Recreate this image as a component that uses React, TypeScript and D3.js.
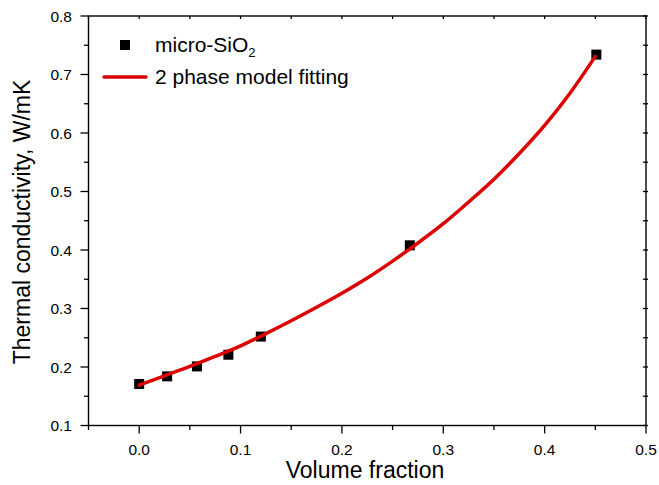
import React from "react";
import * as d3 from "d3";

const volumeFraction = [0, 0.0276, 0.057, 0.088, 0.12, 0.267, 0.451];
const conductivity = [0.171, 0.184, 0.201, 0.221, 0.252, 0.408, 0.734];

const fitX = [0, 0.025, 0.05, 0.075, 0.1, 0.125, 0.15, 0.175, 0.2, 0.225, 0.25, 0.275, 0.3, 0.325, 0.35, 0.375, 0.4, 0.425, 0.45];
const fitY = [0.169, 0.185, 0.201, 0.218, 0.236, 0.257, 0.279, 0.302, 0.326, 0.352, 0.381, 0.412, 0.445, 0.482, 0.521, 0.565, 0.613, 0.668, 0.731];

const xMajor = [0, 0.1, 0.2, 0.3, 0.4, 0.5];
const xMinor = [-0.05, 0.05, 0.15, 0.25, 0.35, 0.45];
const yMajor = [0.1, 0.2, 0.3, 0.4, 0.5, 0.6, 0.7, 0.8];
const yMinor = [0.15, 0.25, 0.35, 0.45, 0.55, 0.65, 0.75];

const W = 659, H = 485;
const L = 88.5, R = 646, T = 16, B = 425.5;
const RED = "#dd0000";
const FONT = "'Liberation Sans', Arial, Helvetica, sans-serif";

export default function App() {
  const x = d3.scaleLinear().domain([-0.05, 0.5]).range([L, R]);
  const y = d3.scaleLinear().domain([0.1, 0.8]).range([B, T]);
  const line = d3
    .line<number>()
    .x((d) => x(d))
    .y((_, i) => y(fitY[i]))
    .curve(d3.curveCatmullRom.alpha(0.5));
  const sq = 10;
  return (
    <svg
      width={W}
      height={H}
      style={{ position: "absolute", left: 0, top: 0, background: "#fff" }}
      fontFamily={FONT}
    >
      <rect x={0} y={0} width={W} height={H} fill="#fff" />
      {xMajor.map((v) => (
        <line key={"bx" + v} x1={x(v)} x2={x(v)} y1={B} y2={B + 8} stroke="#000" strokeWidth={1.3} />
      ))}
      {xMinor.map((v) => (
        <line key={"bxm" + v} x1={x(v)} x2={x(v)} y1={B} y2={B + 4.5} stroke="#000" strokeWidth={1.3} />
      ))}
      {[...xMajor, ...xMinor].map((v) => (
        <line key={"tx" + v} x1={x(v)} x2={x(v)} y1={T} y2={T + 3} stroke="#000" strokeWidth={1.3} />
      ))}
      {yMajor.map((v) => (
        <line key={"ly" + v} x1={L - 8} x2={L} y1={y(v)} y2={y(v)} stroke="#000" strokeWidth={1.3} />
      ))}
      {yMinor.map((v) => (
        <line key={"lym" + v} x1={L - 4.5} x2={L} y1={y(v)} y2={y(v)} stroke="#000" strokeWidth={1.3} />
      ))}
      {[...yMajor, ...yMinor].map((v) => (
        <line key={"ry" + v} x1={R - 3} x2={R + 2} y1={y(v)} y2={y(v)} stroke="#000" strokeWidth={1.3} />
      ))}
      <rect x={L} y={T} width={R - L} height={B - T} fill="none" stroke="#000" strokeWidth={1.4} />

      {xMajor.map((v) => (
        <text key={"xl" + v} x={x(v)} y={454.5} fontSize={15.5} textAnchor="middle" fill="#000">
          {v.toFixed(1)}
        </text>
      ))}
      {yMajor.map((v) => (
        <text key={"yl" + v} x={72} y={y(v) + 5.5} fontSize={15.5} textAnchor="end" fill="#000">
          {v.toFixed(1)}
        </text>
      ))}

      <text x={365} y={478} fontSize={23} textAnchor="middle" fill="#000">
        Volume fraction
      </text>
      <text
        transform={`translate(30,222) rotate(-90)`}
        fontSize={23}
        textAnchor="middle"
        fill="#000"
      >
        Thermal conductivity, W/mK
      </text>

      {volumeFraction.map((v, i) => (
        <rect
          key={"p" + i}
          x={x(v) - sq / 2}
          y={y(conductivity[i]) - sq / 2}
          width={sq}
          height={sq}
          fill="#000"
        />
      ))}
      <path d={line(fitX) || ""} fill="none" stroke={RED} strokeWidth={3.5} strokeLinecap="round" />

      <rect x={125 - 5} y={45 - 5} width={10} height={10} fill="#000" />
      <text x={155} y={52} fontSize={21} fill="#000">
        micro-SiO
        <tspan fontSize={13} dy={5}>2</tspan>
      </text>
      <line x1={104} x2={146} y1={77} y2={77} stroke={RED} strokeWidth={3.5} strokeLinecap="round" />
      <text x={155} y={84} fontSize={21} fill="#000">
        2 phase model fitting
      </text>
    </svg>
  );
}
